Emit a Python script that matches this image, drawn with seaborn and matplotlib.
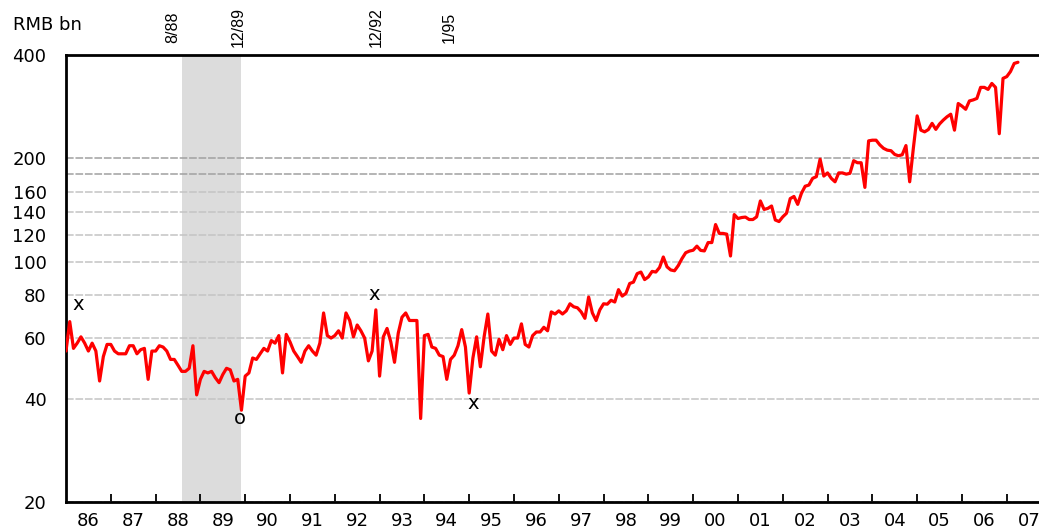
import numpy as np
import pandas as pd
import matplotlib
matplotlib.use("Agg")
import matplotlib.pyplot as plt
import seaborn as sns
from matplotlib.ticker import FixedLocator, FixedFormatter, NullLocator, NullFormatter

# ---- data (monthly, RMB bn), starting Jan 1986 ----
start_year = 1986
values = [
    55, 67, 56, 58, 60.5, 58, 55, 58, 55, 45, 53, 57.5,             # 1986
    57.5, 55, 54, 54, 54, 57, 57, 54, 55.5, 56, 45.5, 55,           # 1987
    55, 57, 56.5, 55, 52, 52, 50, 48, 48, 49, 57, 41,               # 1988
    45.5, 48, 47.5, 48, 46, 44.5, 47, 49, 48.5, 45, 45.5, 37,       # 1989
    46.5, 47.5, 52.5, 52, 54, 56, 55, 59, 58, 61, 47.5, 61.5,       # 1990
    58.5, 55, 53, 51, 55, 57, 55, 53.5, 58, 71, 61, 60,             # 1991
    61, 63, 60, 71, 67.5, 60.5, 65.5, 63, 60, 51.5, 55, 72.5,       # 1992
    46.5, 60.5, 64, 58.5, 51, 62, 69, 71, 67.5, 67.5, 67.5, 35,     # 1993
    61, 61.5, 56.5, 56, 53.5, 53, 45.5, 52, 53.5, 57, 63.5, 56.5,   # 1994
    41.5, 52.5, 60.5, 49.5, 60.5, 70.5, 55, 53.5, 59.5, 55.5, 61, 57.5,  # 1995
    60, 60, 66, 57.5, 56.5, 61, 62.5, 62.5, 64.5, 63, 71.5, 70.5,   # 1996
    72, 70.5, 72, 75.5, 74, 73.5, 71.5, 68.5, 79, 71, 67.5, 72.5,   # 1997
    75.5, 75.3, 77.3, 76.4, 83, 79.5, 81, 86.5, 87.3, 92.4, 93.4, 88.8,  # 1998
    90.4, 93.8, 93.4, 96.3, 103.3, 96.7, 94.7, 94.2, 97.5, 102.2, 106.3, 107.5,  # 1999
    108.1, 111.1, 108, 107.6, 113.8, 113.8, 128.4, 121, 121, 120.4, 104, 137.3,  # 2000
    133.7, 134.6, 135, 132.8, 132.8, 135.2, 150.4, 142.1, 143.1, 145.4, 132.4, 131,  # 2001
    135.2, 138.5, 152.8, 155, 147, 158.3, 166, 167.3, 175, 177, 199, 177.7,  # 2002
    181.5, 175, 171, 181.5, 181.5, 180, 181, 197, 194.3, 194.3, 164.7, 225,  # 2003
    226, 226, 219, 214, 211.4, 210.6, 205.4, 203.6, 205, 218, 171, 215,      # 2004
    266, 241.7, 239, 242.7, 253, 243, 252, 258.6, 264.4, 269, 241.7, 289,    # 2005
    284, 278, 294, 296, 299, 322, 322, 317.6, 330.6, 322, 236, 342,          # 2006
    346, 358, 378, 381,                                                      # 2007
]
year_labels = ["86", "87", "88", "89", "90", "91", "92", "93", "94", "95", "96",
               "97", "98", "99", "00", "01", "02", "03", "04", "05", "06", "07"]
y_ticks = [20, 40, 60, 80, 100, 120, 140, 160, 200, 400]
grid_light = [20, 40, 60, 80, 100, 120, 140, 160]
grid_dark = [180, 200]
event_labels = ["8/88", "12/89", "12/92", "1/95"]
event_x = [1988.39, 1989.84, 1992.92, 1994.55]
shade_start = 1988 + 7 / 12
shade_end = 1989 + 11 / 12
mark_text = ["x", "o", "x", "x"]
mark_x = [1986.27, 1989.88, 1992.875, 1995.08]
mark_y = [75, 35.1, 80.6, 38.6]

# ---- figure ----
sns.set_theme(style="white")
plt.rcParams["font.family"] = ["DejaVu Sans"]

W, H = 1039, 531
fig = plt.figure(figsize=(W / 100, H / 100), dpi=100)
ax = fig.add_axes([66 / W, 29 / H, 973 / W, 447 / H])

df = pd.DataFrame({"t": start_year + np.arange(len(values)) / 12.0, "v": values})

ax.axvspan(shade_start, shade_end, color="#dcdcdc", lw=0, zorder=0)
for g in grid_light:
    ax.axhline(g, color="#c4c4c4", lw=1.1, ls=(0, (5, 1.2)), zorder=1)
for g in grid_dark:
    ax.axhline(g, color="#a0a0a0", lw=1.1, ls=(0, (5, 1.2)), zorder=1)

sns.lineplot(data=df, x="t", y="v", ax=ax, color="#ff0000", lw=2.3, zorder=3)

ax.set_yscale("log")
ax.set_ylim(20, 400)
ax.set_xlim(1986, 2007.72)
ax.set_xlabel("")
ax.set_ylabel("")

# x ticks: marks at year boundaries, labels at mid-year
ax.xaxis.set_major_locator(FixedLocator(list(range(1987, 2008))))
ax.xaxis.set_major_formatter(NullFormatter())
ax.xaxis.set_minor_locator(FixedLocator([1986.5 + k for k in range(len(year_labels))]))
ax.xaxis.set_minor_formatter(FixedFormatter(year_labels))
ax.tick_params(axis="x", which="major", direction="in", length=6, width=1.3,
               color="black", bottom=True)
ax.tick_params(axis="x", which="minor", length=0, pad=7, labelsize=13,
               labelcolor="black", bottom=True)

# y ticks
ax.yaxis.set_major_locator(FixedLocator(y_ticks))
ax.yaxis.set_major_formatter(FixedFormatter([str(v) for v in y_ticks]))
ax.yaxis.set_minor_locator(NullLocator())
ax.tick_params(axis="y", which="major", length=0, pad=14, labelsize=13,
               labelcolor="black", left=True)

for side in ["left", "bottom", "top"]:
    ax.spines[side].set_visible(True)
    ax.spines[side].set_color("black")
    ax.spines[side].set_linewidth(2)
ax.spines["right"].set_visible(False)

fig.text(13 / W, 1 - 25 / H, "RMB bn", ha="left", va="center", fontsize=13,
         color="black")

for lab, x in zip(event_labels, event_x):
    ax.text(x, 1.062, lab, transform=ax.get_xaxis_transform(), rotation=90,
            ha="center", va="center", fontsize=11.5, family="Liberation Sans",
            color="black")

for s, x, y in zip(mark_text, mark_x, mark_y):
    ax.text(x, y, s, ha="center", va="center", fontsize=14, color="black",
            zorder=4)

fig.savefig("out.png", dpi=100)
